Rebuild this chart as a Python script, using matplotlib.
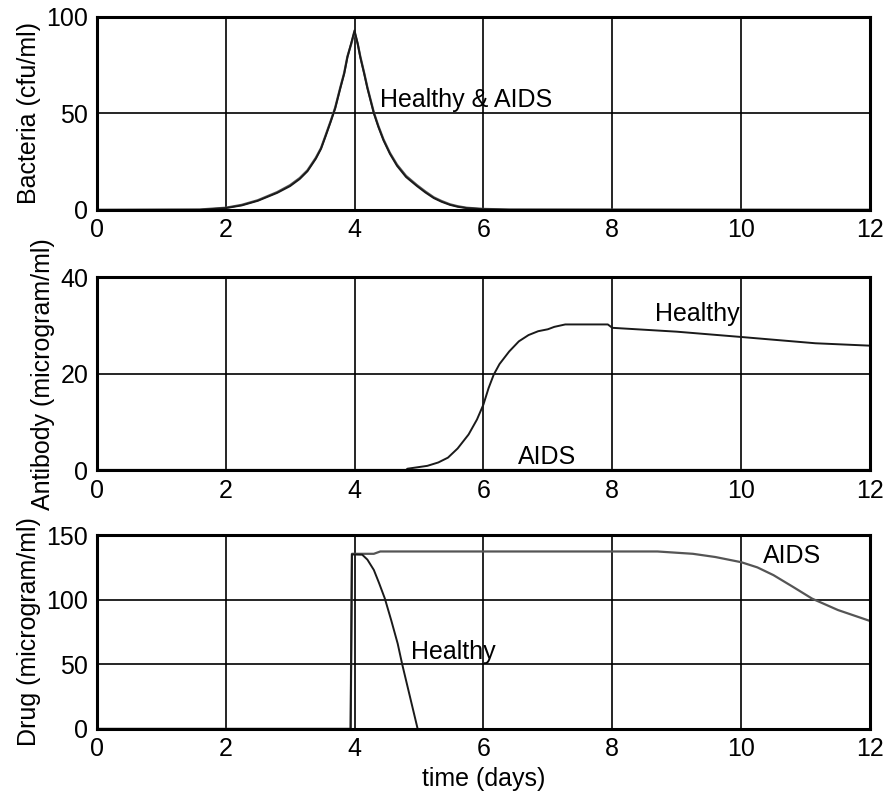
import matplotlib
matplotlib.use("Agg")
import matplotlib.pyplot as plt

plt.rcParams['font.family'] = ['Liberation Sans', 'DejaVu Sans']
plt.rcParams['font.size'] = 18

# bacteria (cfu/ml), both cases nearly the same
t_bac = [0, 1.6, 2.0, 2.25, 2.5, 2.8, 3.0, 3.15, 3.27, 3.4, 3.48, 3.55, 3.63,
         3.7, 3.78, 3.84, 3.89, 3.95, 4.0, 4.05, 4.09, 4.15, 4.2, 4.3, 4.37,
         4.45, 4.55, 4.66, 4.8, 4.97, 5.1, 5.23, 5.35, 5.48, 5.6, 5.74, 6.0,
         6.4, 12]
bac_healthy = [0, 0, 0.9, 2.3, 4.7, 8.8, 12.3, 16, 20, 26.5, 31.6, 38, 45.6,
               52.5, 63, 70.5, 79, 86.5, 93, 86, 79, 70.5, 63, 50, 43,
               36, 29, 22.8, 17, 12.3, 9, 6.1, 4.2, 2.6, 1.6, 0.9, 0.3,
               0, 0]
bac_aids = [0, 0.2, 1.1, 2.6, 5.0, 9.2, 12.8, 16.5, 20.5, 27, 32, 38.5, 46,
            53, 63.5, 71, 79.5, 86, 92, 86, 79.5, 71, 63.5, 50.5, 43.5,
            36.5, 29.5, 23.4, 17.6, 12.8, 9.5, 6.5, 4.6, 2.9, 1.9, 1.1, 0.5,
            0.2, 0]

# antibody (microgram/ml)
t_ab = [0, 4.8, 4.82, 5.13, 5.3, 5.45, 5.6, 5.77, 5.9, 6.0, 6.08, 6.16, 6.25,
        6.4, 6.55, 6.7, 6.85, 7.0, 7.1, 7.27, 7.93, 8.0, 9.0, 10.0, 11.15, 12.0]
ab_healthy = [0, 0, 0.3, 0.9, 1.6, 2.6, 4.5, 7.4, 10.5, 13.6, 17, 19.8, 22,
              24.6, 26.7, 28.0, 28.8, 29.2, 29.7, 30.2, 30.2, 29.5, 28.7,
              27.6, 26.3, 25.8]
t_ab_aids = [0, 12]
ab_aids = [0, 0]

# drug (microgram/ml)
t_drug_h = [0, 3.94, 3.96, 4.12, 4.2, 4.3, 4.38, 4.47, 4.57, 4.67, 4.74, 4.86,
            4.98]
drug_healthy = [0, 0, 135, 134.8, 131, 123, 113, 101, 84, 66, 50, 25, 0]
t_drug_a = [0, 3.94, 3.96, 4.3, 4.4, 8.7, 9.25, 9.6, 10.0, 10.25, 10.5, 10.8,
            11.1, 11.5, 12.0]
drug_aids = [0, 0, 135.5, 135.5, 137.3, 137.3, 135.5, 133, 129, 125, 119, 110,
             100.8, 92, 83.5]

xticks = [0, 2, 4, 6, 8, 10, 12]

dark = '#1a1a1a'
gray = '#555555'

fig = plt.figure(figsize=(8.87, 8.01), dpi=100)
left, width = 0.109, 0.872
ax1 = fig.add_axes([left, 0.738, width, 0.241])
ax2 = fig.add_axes([left, 0.413, width, 0.241])
ax3 = fig.add_axes([left, 0.090, width, 0.242])

ax1.plot(t_bac, bac_aids, color=gray, lw=1.6)
ax1.plot(t_bac, bac_healthy, color=dark, lw=1.4)
ax1.set_ylim(0, 100)
ax1.set_yticks([0, 50, 100])
ax1.set_ylabel('Bacteria (cfu/ml)')
ax1.text(4.39, 53.5, 'Healthy & AIDS', va='baseline')

ax2.plot(t_ab_aids, ab_aids, color=gray, lw=1.6)
ax2.plot(t_ab, ab_healthy, color=dark, lw=1.4)
ax2.set_ylim(0, 40)
ax2.set_yticks([0, 20, 40])
ax2.set_ylabel('Antibody (microgram/ml)')
ax2.text(8.66, 31, 'Healthy', va='baseline')
ax2.text(6.53, 1.2, 'AIDS', va='baseline')

ax3.plot(t_drug_a, drug_aids, color=gray, lw=1.6)
ax3.plot(t_drug_h, drug_healthy, color=dark, lw=1.4)
ax3.set_ylim(0, 150)
ax3.set_yticks([0, 50, 100, 150])
ax3.set_ylabel('Drug (microgram/ml)')
ax3.set_xlabel('time (days)')
ax3.text(10.33, 128, 'AIDS', va='baseline')
ax3.text(4.88, 54, 'Healthy', va='baseline')

for ax in (ax1, ax2, ax3):
    ax.set_xlim(0, 12)
    ax.set_xticks(xticks)
    ax.grid(True, color='black', lw=1.2)
    ax.set_axisbelow(True)
    ax.tick_params(direction='in', length=0, pad=6, labelsize=18)
    for s in ax.spines.values():
        s.set_linewidth(2.2)
    ax.yaxis.labelpad = 4

fig.savefig('out.png', dpi=100)
